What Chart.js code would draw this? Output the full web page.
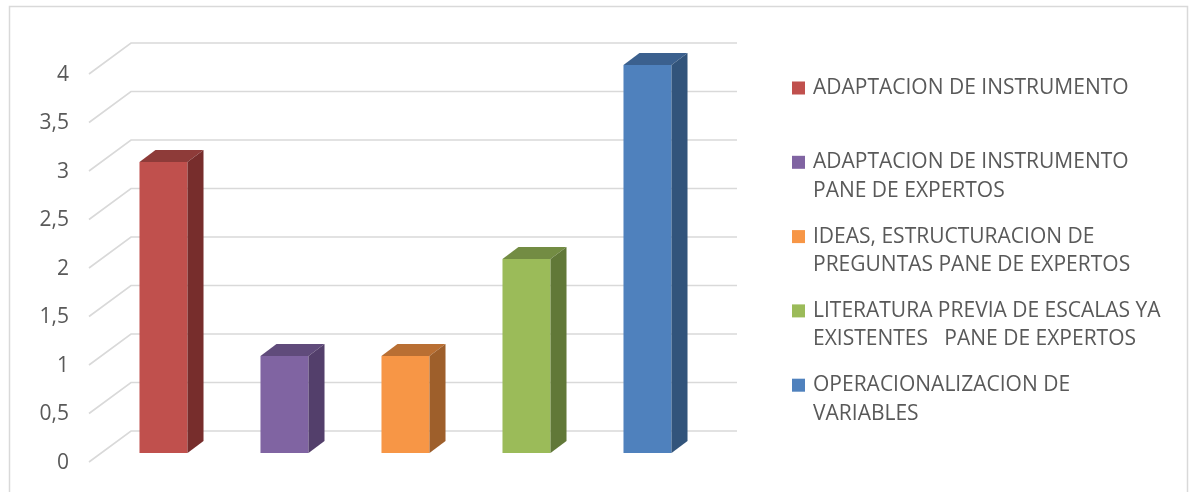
<!DOCTYPE html>
<html>
<head>
<meta charset="utf-8">
<script src="https://cdn.jsdelivr.net/npm/chart.js@4"></script>
<style>
  html, body { margin: 0; padding: 0; background: #fff; }
</style>
</head>
<body>
<canvas id="barchart" width="1189" height="492"></canvas>
<script>
// data
const categories = [
  ["ADAPTACION DE INSTRUMENTO"],
  ["ADAPTACION DE INSTRUMENTO", "PANE DE EXPERTOS"],
  ["IDEAS, ESTRUCTURACION DE", "PREGUNTAS PANE DE EXPERTOS"],
  ["LITERATURA PREVIA DE ESCALAS YA", "EXISTENTES   PANE DE EXPERTOS"],
  ["OPERACIONALIZACION DE", "VARIABLES"]
];
const values = [3, 1, 1, 2, 4];
const yTicks = [0, 0.5, 1, 1.5, 2, 2.5, 3, 3.5, 4];
const tickLabels = ["0", "0,5", "1", "1,5", "2", "2,5", "3", "3,5", "4"];

// colours: front face, top face, side face
const frontColors = ["#C0504D", "#8064A2", "#F79646", "#9BBB59", "#4F81BD"];
const topColors   = ["#8E3B39", "#604B7B", "#B96F33", "#738C43", "#3B608E"];
const sideColors  = ["#772D2C", "#533F6B", "#9E5F2B", "#617838", "#32547B"];

const FONT = "'Open Sans', 'Liberation Sans', sans-serif";
const TEXT = "#595959";
const GRID = "#d9d9d9";

// 3d offsets
const BAR_DX = 16, BAR_DY = 12;

// outer frame
const framePlugin = {
  id: "frame",
  beforeDraw(chart) {
    const ctx = chart.ctx;
    ctx.save();
    ctx.strokeStyle = GRID;
    ctx.lineWidth = 1.5;
    ctx.strokeRect(9.5, 6.5, 1178, 520);
    ctx.restore();
  }
};

// perspective gridlines (floor edge + back wall)
const wallPlugin = {
  id: "wall",
  beforeDatasetsDraw(chart) {
    const { ctx, chartArea: a, scales: { y } } = chart;
    ctx.save();
    ctx.strokeStyle = GRID;
    ctx.lineWidth = 1.6;
    yTicks.forEach(v => {
      const p = y.getPixelForValue(v);
      ctx.beginPath();
      ctx.moveTo(a.left - 14, p + 9);
      ctx.lineTo(a.left + 28, p - 22);
      ctx.lineTo(a.right + 29, p - 22);
      ctx.stroke();
    });
    ctx.restore();
  }
};

// top and side faces of each column
const cubePlugin = {
  id: "cube",
  afterDatasetsDraw(chart) {
    const ctx = chart.ctx;
    const meta = chart.getDatasetMeta(0);
    ctx.save();
    meta.data.forEach((bar, i) => {
      const l = bar.x - bar.width / 2, r = bar.x + bar.width / 2;
      const t = bar.y, b = bar.base;
      ctx.fillStyle = topColors[i];
      ctx.beginPath();
      ctx.moveTo(l, t);
      ctx.lineTo(l + BAR_DX, t - BAR_DY);
      ctx.lineTo(r + BAR_DX, t - BAR_DY);
      ctx.lineTo(r, t);
      ctx.closePath();
      ctx.fill();
      ctx.fillStyle = sideColors[i];
      ctx.beginPath();
      ctx.moveTo(r, t);
      ctx.lineTo(r + BAR_DX, t - BAR_DY);
      ctx.lineTo(r + BAR_DX, b - BAR_DY);
      ctx.lineTo(r, b);
      ctx.closePath();
      ctx.fill();
    });
    ctx.restore();
  }
};

// legend on the right, wrapped labels
const legendPlugin = {
  id: "sideLegend",
  afterDraw(chart) {
    const ctx = chart.ctx;
    ctx.save();
    ctx.font = "21px " + FONT;
    ctx.textBaseline = "middle";
    categories.forEach((lines, i) => {
      const y0 = 88 + i * 74.3;
      ctx.fillStyle = frontColors[i];
      ctx.fillRect(792, y0 - 6.5, 13, 13);
      ctx.fillStyle = TEXT;
      lines.forEach((s, k) => ctx.fillText(s, 813, y0 + k * 28.5));
    });
    ctx.restore();
  }
};

const data = {
  labels: categories,
  datasets: [{
    data: values,
    backgroundColor: frontColors,
    borderWidth: 0,
    barPercentage: 0.397,
    categoryPercentage: 1,
    clip: false
  }]
};

const config = {
  type: "bar",
  data,
  options: {
    responsive: false,
    animation: false,
    layout: { padding: { top: 65, bottom: 39, left: 0, right: 481 } },
    plugins: { legend: { display: false }, tooltip: { enabled: false } },
    scales: {
      x: { display: false },
      y: {
        min: 0,
        max: 4,
        afterFit(scale) {
          scale.width = 103;
          scale.paddingTop = 0;
          scale.paddingBottom = 0;
        },
        grid: { display: false, drawTicks: false },
        border: { display: false },
        ticks: {
          stepSize: 0.5,
          padding: 34,
          labelOffset: 10,
          color: TEXT,
          font: { family: FONT, size: 21 },
          callback: (v) => tickLabels[yTicks.indexOf(v)]
        }
      }
    }
  },
  plugins: [framePlugin, wallPlugin, cubePlugin, legendPlugin]
};

const chartBar = new Chart("barchart", config);
</script>
</body>
</html>
